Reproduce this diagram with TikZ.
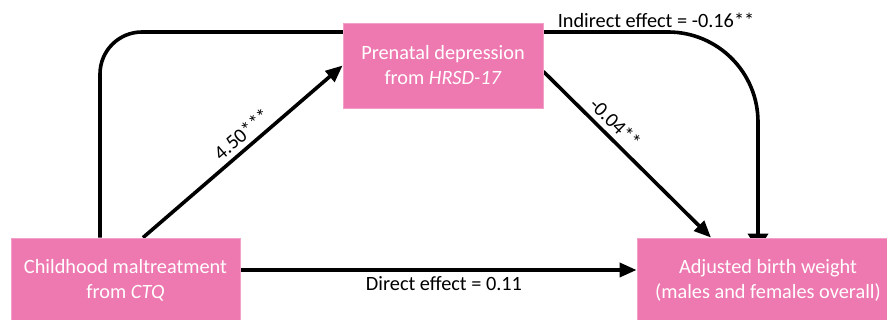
\documentclass[tikz,border=0pt]{standalone}
\usepackage{fontspec}
\setmainfont{Carlito}
\usetikzlibrary{arrows.meta,calc,backgrounds}
\definecolor{boxpink}{HTML}{EE78B0}
\tikzset{
  box/.style={fill=boxpink,draw=boxpink!70!white,line width=0.8pt,text=white,align=center,font=\fontsize{20.3}{25}\selectfont,inner sep=0pt},
  conn/.style={line width=3.6pt,-{Triangle[length=17pt,width=14pt]}},
  lab/.style={font=\fontsize{20.3}{24}\selectfont,inner sep=0pt}
}
\begin{document}
\begin{tikzpicture}[x=1pt,y=1pt]
\clip (0,0) rectangle (887,320);
\node[box,minimum width=229pt,minimum height=84pt] (L) at (125.5,40) {Childhood maltreatment\\from \textit{CTQ}};
\node[box,minimum width=200pt,minimum height=85pt] (T) at (443,254.5) {Prenatal depression\\from \textit{HRSD-17}};
\node[box,minimum width=262pt,minimum height=84pt] (R) at (768,40) {Adjusted birth weight\\(males and females overall)};
\begin{scope}[on background layer]
\fill[white] (0,0) rectangle (887,320);
\draw[conn] (L.north -| 143,0) -- node[lab,sloped,above=5pt,pos=0.54] (a) {4.50***} (T.west);
\draw[conn] ($(T.east)+(0,-6)$) -- node[lab,sloped,above=5pt,pos=0.37] (b) {-0.04**} (R.north -| 711,0);
\draw[conn] ($(L.east)+(0,10)$) -- ($(R.west)+(0,10)$);
\draw[line width=3.6pt,-{Triangle[length=17pt,width=20pt]}] (L.north -| 100,0) -- (100,246) arc[start angle=180,end angle=90,radius=42] -- (668,288) arc[start angle=90,end angle=0,radius=90] -- ($(R.north -| 758,0)+(0,-13)$);
\end{scope}
\node[lab] (ie) at (656,300) {Indirect effect = -0.16**};
\node[lab] (de) at (444,36) {Direct effect = 0.11};
\end{tikzpicture}
\end{document}
